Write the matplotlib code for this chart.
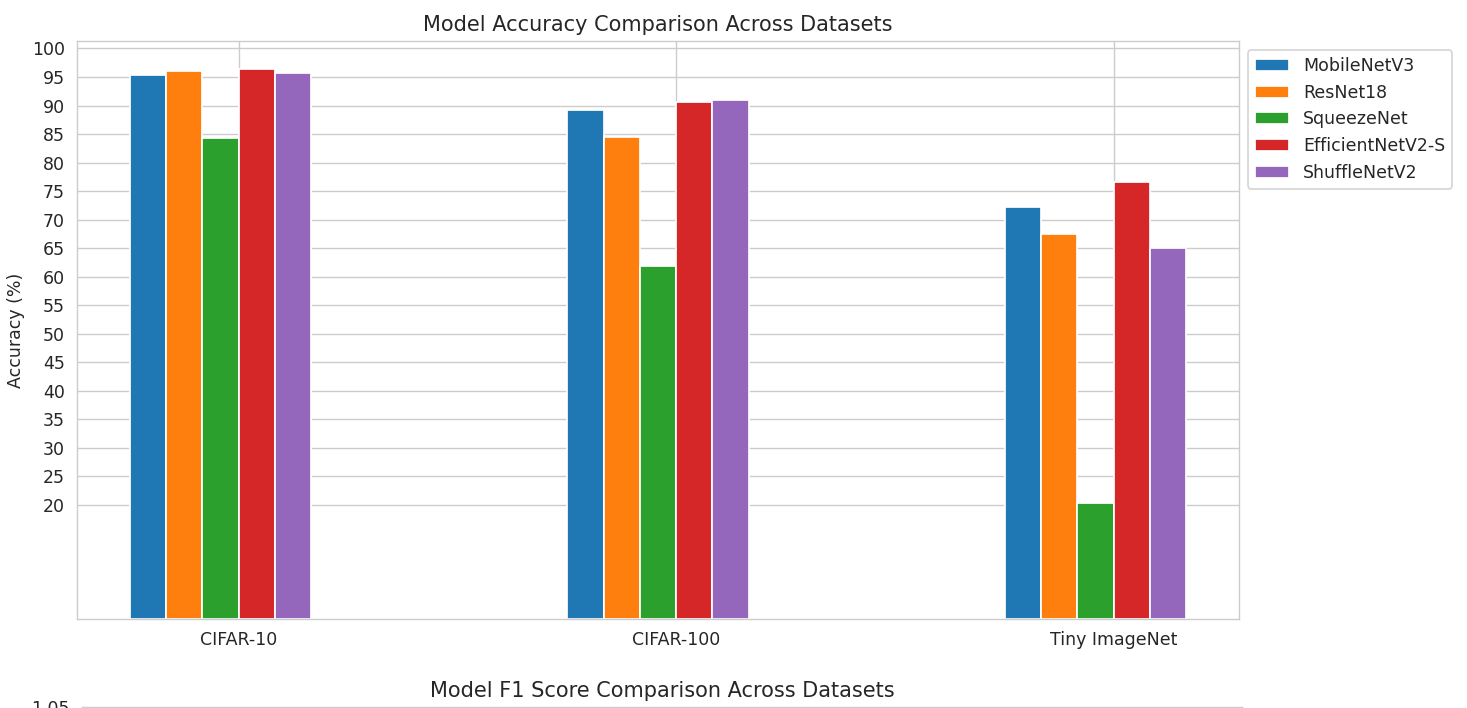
import numpy as np
import matplotlib
matplotlib.use("Agg")
import matplotlib.pyplot as plt
import seaborn as sns

sns.set_style("whitegrid")
plt.rcParams['font.family'] = ['DejaVu Sans']

datasets = ["CIFAR-10", "CIFAR-100", "Tiny ImageNet"]
models = ["MobileNetV3", "ResNet18", "SqueezeNet", "EfficientNetV2-S", "ShuffleNetV2"]
accuracy = {
    "MobileNetV3":      [95.3, 89.3, 72.2],
    "ResNet18":         [96.0, 84.4, 67.4],
    "SqueezeNet":       [84.3, 61.9, 20.4],
    "EfficientNetV2-S": [96.4, 90.6, 76.6],
    "ShuffleNetV2":     [95.7, 90.9, 65.0],
}
acc_yticks = list(range(20, 101, 5))
f1_yticks = [1.05]

colors = ['#1f77b4', '#ff7f0e', '#2ca02c', '#d62728', '#9467bd']

DPI = 125
W, H = 1467, 708
fig = plt.figure(figsize=(W / DPI, H / DPI), dpi=DPI)

ax = fig.add_axes([77 / W, 1 - 619 / H, 1162 / W, (619 - 41.5) / H])
x = np.arange(len(datasets))
w = 0.083
n = len(models)
for i, m in enumerate(models):
    ax.bar(x + (i - n / 2) * w, accuracy[m], w, label=m, color=colors[i],
           edgecolor='white', linewidth=1.0)
ax.set_xticks(x)
ax.set_xticklabels(datasets)
ax.set_yticks(acc_yticks)
ax.set_ylabel("Accuracy (%)")
ax.set_title("Model Accuracy Comparison Across Datasets")
ax.legend(loc='upper left', bbox_to_anchor=(1.0, 1.0))

# second (cropped) subplot
ax2 = fig.add_axes([82 / W, 1 / H - 0.8157, 1160 / W, 0.8157])
ax2.set_ylim(0, 1.05)
ax2.set_yticks(f1_yticks)
ax2.set_xticks([])
ax2.set_title("Model F1 Score Comparison Across Datasets")

fig.savefig("out.png", dpi=DPI)
